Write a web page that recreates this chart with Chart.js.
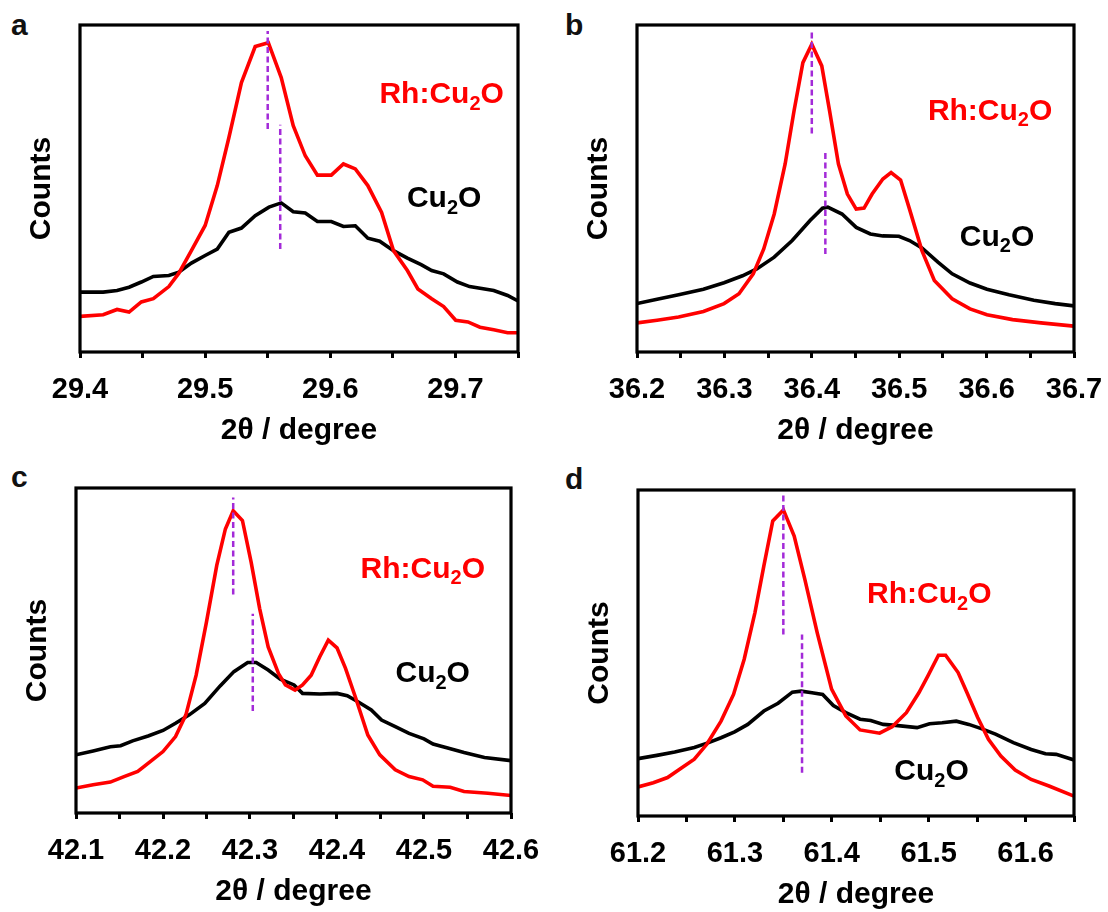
<!DOCTYPE html>
<html><head><meta charset="utf-8">
<script src="https://cdn.jsdelivr.net/npm/chart.js@4.4.1/dist/chart.umd.min.js"></script>
<style>
html,body{margin:0;padding:0;background:#fff;overflow:hidden;}
body{width:1108px;height:912px;position:relative;font-family:"Liberation Sans",Arial,sans-serif;}
canvas{position:absolute;}
.lbl{position:absolute;font:bold 30px "Liberation Sans",Arial,sans-serif;line-height:30px;color:#111;}
</style></head><body>
<div class="lbl" style="left:11px;top:10px">a</div>
<div class="lbl" style="left:565px;top:10px">b</div>
<div class="lbl" style="left:11px;top:462px">c</div>
<div class="lbl" style="left:565px;top:464px">d</div>
<canvas id="ca"></canvas>
<canvas id="cb"></canvas>
<canvas id="cc"></canvas>
<canvas id="cd"></canvas>
<script>
// ---------- Panel a ----------
const aCuX = [29.4,29.4185,29.4296,29.4392,29.449,29.4586,29.471,29.479,29.489,29.5,29.5097,29.519,29.529,29.540,29.551,29.5608,29.5704,29.580,29.5897,29.6008,29.6105,29.620,29.630,29.6395,29.6505,29.6616,29.6726,29.681,29.6906,29.7016,29.7113,29.7306,29.7417,29.75];
const aCuY = [18.3,18.3,18.8,19.8,21.4,23.1,23.4,24.4,27.2,29.5,31.5,36.6,37.9,41.7,44.3,45.6,42.9,42.5,39.9,39.9,38.4,38.6,34.8,33.9,31.0,28.7,26.7,24.9,23.9,21.4,20.0,18.8,17.3,15.6];
const aRhX = [29.4,29.4185,29.4296,29.4392,29.449,29.4586,29.471,29.479,29.489,29.5,29.5097,29.519,29.529,29.540,29.5505,29.5608,29.5704,29.580,29.5897,29.6008,29.6105,29.620,29.630,29.641,29.6505,29.6616,29.670,29.681,29.6906,29.7002,29.710,29.7196,29.7306,29.7417,29.75];
const aRhY = [10.9,11.4,13.0,12.2,15.3,16.3,20.0,24.1,31.0,38.7,50.9,65.6,82.4,93.4,94.6,83.9,69.2,60.0,54.1,54.1,57.5,56.0,50.9,42.7,31.0,24.9,19.3,16.3,13.9,9.7,9.2,7.6,6.8,5.9,5.9];
const aPeakX = [29.55, 29.56];
const aPeakTop = [98.2, 69.5];
const aPeakBottom = [68.2, 31.5];
const aMajorTicks = [29.4, 29.5, 29.6, 29.7];
const aMinorTicks = [29.45, 29.55, 29.65, 29.75];

// ---------- Panel b ----------
const bCuX = [36.2,36.223,36.2476,36.276,36.2996,36.3207,36.337,36.357,36.3776,36.398,36.4122,36.4183,36.4346,36.4508,36.467,36.4813,36.4996,36.5118,36.526,36.5443,36.5606,36.581,36.6004,36.6256,36.654,36.6785,36.7];
const bCuY = [14.8,16.1,17.5,19.2,21.2,23.3,25.4,29.0,34.1,40.2,44.0,44.3,42.2,38.1,36.1,35.5,35.4,34.1,31.8,27.5,23.9,21.1,19.2,17.5,15.8,14.8,14.1];
const bRhX = [36.2,36.223,36.2476,36.276,36.2996,36.3167,36.333,36.345,36.357,36.3695,36.3797,36.3898,36.4,36.4114,36.4203,36.4305,36.4407,36.4508,36.4598,36.469,36.4813,36.4907,36.5016,36.5118,36.526,36.5402,36.5606,36.581,36.6004,36.6297,36.6622,36.7];
const bRhY = [8.9,9.7,10.7,12.4,14.8,17.8,23.9,31.5,42.2,57.5,73.8,88.5,94.1,87.5,73.8,57.5,48.3,43.7,44.0,48.3,52.9,54.9,52.6,43.7,31.0,21.9,16.3,13.2,11.4,9.9,8.9,7.9];
const bPeakX = [36.4, 36.4155];
const bPeakTop = [98.4, 61.7];
const bPeakBottom = [66.8, 30.0];
const bMajorTicks = [36.2, 36.3, 36.4, 36.5, 36.6, 36.7];
const bMinorTicks = [36.25, 36.35, 36.45, 36.55, 36.65];

// ---------- Panel c ----------
const cCuX = [42.1,42.1197,42.1395,42.1513,42.1651,42.1829,42.2,42.2144,42.2302,42.248,42.2657,42.2815,42.2973,42.3071,42.3209,42.3348,42.3506,42.3604,42.3802,42.4,42.4118,42.4236,42.4394,42.4512,42.467,42.4828,42.5,42.5104,42.5262,42.546,42.5695,42.6];
const cCuY = [17.9,19.1,20.4,20.7,22.2,23.7,25.4,27.6,30.2,33.7,39.1,43.5,46.3,46.3,44.0,41.2,39.4,36.8,36.6,36.8,36.1,34.3,31.7,28.6,26.6,24.5,22.8,21.2,20.1,18.6,17.1,16.1];
const cRhX = [42.1,42.1197,42.1395,42.1552,42.171,42.1868,42.2,42.2144,42.2263,42.2381,42.25,42.2618,42.2717,42.2807,42.2913,42.3013,42.3111,42.3209,42.3328,42.3407,42.3518,42.3604,42.3703,42.3802,42.39,42.4,42.4098,42.4216,42.4354,42.4492,42.467,42.4828,42.4985,42.5104,42.5301,42.546,42.5735,42.6];
const cRhY = [7.7,8.7,9.5,11.2,12.8,16.1,18.9,23.5,30.2,42.4,58.8,76.2,87.4,93.0,90.0,77.2,62.9,51.1,42.9,39.4,37.8,39.4,42.4,48.1,53.2,50.8,44.5,35.3,24.0,17.9,13.3,11.2,10.2,8.2,7.9,6.6,6.1,5.4];
const cPeakX = [42.2807, 42.3032];
const cPeakTop = [97.1, 61.3];
const cPeakBottom = [67.2, 31.4];
const cMajorTicks = [42.1, 42.2, 42.3, 42.4, 42.5, 42.6];
const cMinorTicks = [42.15, 42.25, 42.35, 42.45, 42.55];

// ---------- Panel d ----------
const dCuX = [61.2,61.2195,61.2379,61.2581,61.2729,61.2857,61.2997,61.3133,61.3299,61.3446,61.3593,61.3685,61.3796,61.3906,61.4016,61.4145,61.4292,61.4402,61.4531,61.466,61.488,61.5009,61.5138,61.5285,61.5414,61.5543,61.569,61.5874,61.6058,61.6205,61.6316,61.65];
const dCuY = [17.6,18.6,19.6,21.0,22.5,24.0,25.8,28.1,32.2,34.6,38.0,38.3,37.8,37.3,33.9,31.7,29.7,29.3,28.1,27.8,27.1,28.3,28.6,29.1,28.1,26.8,25.1,22.5,20.4,19.1,18.9,17.2];
const dRhX = [61.2,61.2158,61.2305,61.2452,61.2581,61.271,61.2857,61.2986,61.3096,61.3207,61.3299,61.3391,61.3501,61.3612,61.3722,61.385,61.3998,61.4145,61.4292,61.4494,61.4623,61.477,61.4899,61.4991,61.5101,61.5175,61.5304,61.5396,61.5506,61.5617,61.5745,61.5893,61.6058,61.6242,61.65];
const dRhY = [8.9,10.2,11.8,14.8,17.4,22.0,29.1,37.3,48.1,62.4,76.7,90.5,93.9,85.9,72.6,56.2,38.9,30.7,26.4,25.4,27.4,31.7,37.8,42.9,49.3,49.3,44.0,37.8,30.2,23.5,18.4,14.1,11.2,9.2,6.1];
const dPeakX = [61.35, 61.3693];
const dPeakTop = [98.4, 55.7];
const dPeakBottom = [55.7, 13.3];
const dMajorTicks = [61.2, 61.3, 61.4, 61.5, 61.6];
const dMinorTicks = [61.25, 61.35, 61.45, 61.55, 61.65];

// ---------- series names ----------
const seriesNames = ['Cu2O', 'Rh:Cu2O'];

const FONT = '"Liberation Sans", Arial, sans-serif';
const zip = (xs, ys) => xs.map((x, i) => ({x, y: ys[i]}));

const framePlugin = {
  id: 'frame',
  afterDraw(chart) {
    const {ctx, chartArea: a} = chart;
    ctx.save();
    ctx.strokeStyle = '#000';
    ctx.lineWidth = 3.2;
    ctx.strokeRect(a.left, a.top, a.right - a.left, a.bottom - a.top);
    ctx.restore();
  }
};

function drawChem(ctx, parts, cx, cyCap, size, color) {
  ctx.save();
  ctx.fillStyle = color;
  ctx.textBaseline = 'alphabetic';
  ctx.textAlign = 'left';
  const subSize = Math.round(size * 0.68);
  let w = 0;
  parts.forEach(([t, sub]) => {
    ctx.font = `bold ${sub ? subSize : size}px ${FONT}`;
    w += ctx.measureText(t).width;
  });
  let x = cx - w / 2;
  const base = cyCap + size * 0.358;
  parts.forEach(([t, sub]) => {
    ctx.font = `bold ${sub ? subSize : size}px ${FONT}`;
    ctx.fillText(t, x, sub ? base + size * 0.22 : base);
    x += ctx.measureText(t).width;
  });
  ctx.restore();
}

function makeLabelPlugin(labels) {
  return {
    id: 'chemLabels',
    afterDatasetsDraw(chart) {
      const xs = chart.scales.x, ys = chart.scales.y;
      labels.forEach(l => {
        const parts = l.text === 'Rh:Cu2O' ? [['Rh:Cu', false], ['2', true], ['O', false]] : [['Cu', false], ['2', true], ['O', false]];
        drawChem(chart.ctx, parts, xs.getPixelForValue(l.x), ys.getPixelForValue(l.y), 30, l.color);
      });
    }
  };
}

function makePanel(id, frame, xmin, xmax, cuX, cuY, rhX, rhY, pkX, pkTop, pkBot, major, minor, labels) {
  const Y_AXIS_W = 59, PAD_TOP = 10, PAD_RIGHT = 48, X_AXIS_H = 97;
  const cv = document.getElementById(id);
  const W = Math.round(frame.R - frame.L + Y_AXIS_W + PAD_RIGHT);
  const H = Math.round(frame.B - frame.T + PAD_TOP + X_AXIS_H);
  cv.width = W; cv.height = H;
  cv.style.left = (frame.L - Y_AXIS_W) + 'px';
  cv.style.top = (frame.T - PAD_TOP) + 'px';
  cv.style.width = W + 'px'; cv.style.height = H + 'px';
  const allTicks = major.concat(minor).sort((p, q) => p - q);
  const dashSets = pkX.map((x, i) => ({
    data: [{x, y: pkBot[i]}, {x, y: pkTop[i]}],
    borderColor: '#a32ad8', borderWidth: 2.5, borderDash: [6, 3.5],
    pointRadius: 0, fill: false
  }));
  new Chart(cv, {
    type: 'line',
    data: {
      datasets: [
        ...dashSets,
        {label: seriesNames[1], data: zip(rhX, rhY), borderColor: '#ff0000', borderWidth: 3.6, pointRadius: 0, tension: 0, fill: false},
        {label: seriesNames[0], data: zip(cuX, cuY), borderColor: '#000000', borderWidth: 3.6, pointRadius: 0, tension: 0, fill: false}
      ]
    },
    options: {
      responsive: false, animation: false, devicePixelRatio: 1,
      layout: {padding: {top: PAD_TOP, right: PAD_RIGHT, left: 0, bottom: 0}},
      plugins: {legend: {display: false}, tooltip: {enabled: false}},
      scales: {
        x: {
          type: 'linear', min: xmin, max: xmax,
          afterBuildTicks: axis => { axis.ticks = allTicks.map(v => ({value: v})); },
          afterFit: axis => { axis.height = X_AXIS_H; },
          ticks: {
            autoSkip: false, maxRotation: 0, padding: 15, color: '#000',
            font: {family: FONT, size: 29, weight: 'bold'},
            callback: v => major.some(m => Math.abs(m - v) < 1e-6) ? v.toFixed(1) : ''
          },
          grid: {display: true, drawOnChartArea: false, drawTicks: true, tickLength: 6, tickWidth: 3, tickColor: '#000'},
          border: {display: false},
          title: {display: true, text: '2θ / degree', color: '#000', padding: 0,
                  font: {family: FONT, size: 30, weight: 'bold'}}
        },
        y: {
          type: 'linear', min: 0, max: 100,
          afterFit: axis => { axis.width = Y_AXIS_W; },
          ticks: {display: false},
          grid: {display: false},
          border: {display: false},
          title: {display: true, text: 'Counts', color: '#000', padding: {top: 3, bottom: 0},
                  font: {family: FONT, size: 30, weight: 'bold'}}
        }
      }
    },
    plugins: [framePlugin, makeLabelPlugin(labels)]
  });
}

makePanel('ca', {L: 80, T: 25, R: 517.5, B: 352}, 29.4, 29.75, aCuX, aCuY, aRhX, aRhY, aPeakX, aPeakTop, aPeakBottom, aMajorTicks, aMinorTicks,
  [{text: 'Rh:Cu2O', x: 29.689, y: 79.3, color: '#ff0000'}, {text: 'Cu2O', x: 29.691, y: 47.5, color: '#000'}]);
makePanel('cb', {L: 637, T: 25, R: 1074, B: 352}, 36.2, 36.7, bCuX, bCuY, bRhX, bRhY, bPeakX, bPeakTop, bPeakBottom, bMajorTicks, bMinorTicks,
  [{text: 'Rh:Cu2O', x: 36.604, y: 74.3, color: '#ff0000'}, {text: 'Cu2O', x: 36.612, y: 35.8, color: '#000'}]);
makePanel('cc', {L: 76, T: 488, R: 511, B: 813}, 42.1, 42.6, cCuX, cCuY, cRhX, cRhY, cPeakX, cPeakTop, cPeakBottom, cMajorTicks, cMinorTicks,
  [{text: 'Rh:Cu2O', x: 42.4986, y: 75.7, color: '#ff0000'}, {text: 'Cu2O', x: 42.51, y: 43.5, color: '#000'}]);
makePanel('cd', {L: 637.5, T: 490, R: 1073, B: 816}, 61.2, 61.65, dCuX, dCuY, dRhX, dRhY, dPeakX, dPeakTop, dPeakBottom, dMajorTicks, dMinorTicks,
  [{text: 'Rh:Cu2O', x: 61.5006, y: 68.5, color: '#ff0000'}, {text: 'Cu2O', x: 61.503, y: 14.3, color: '#000'}]);
</script>
</body></html>
